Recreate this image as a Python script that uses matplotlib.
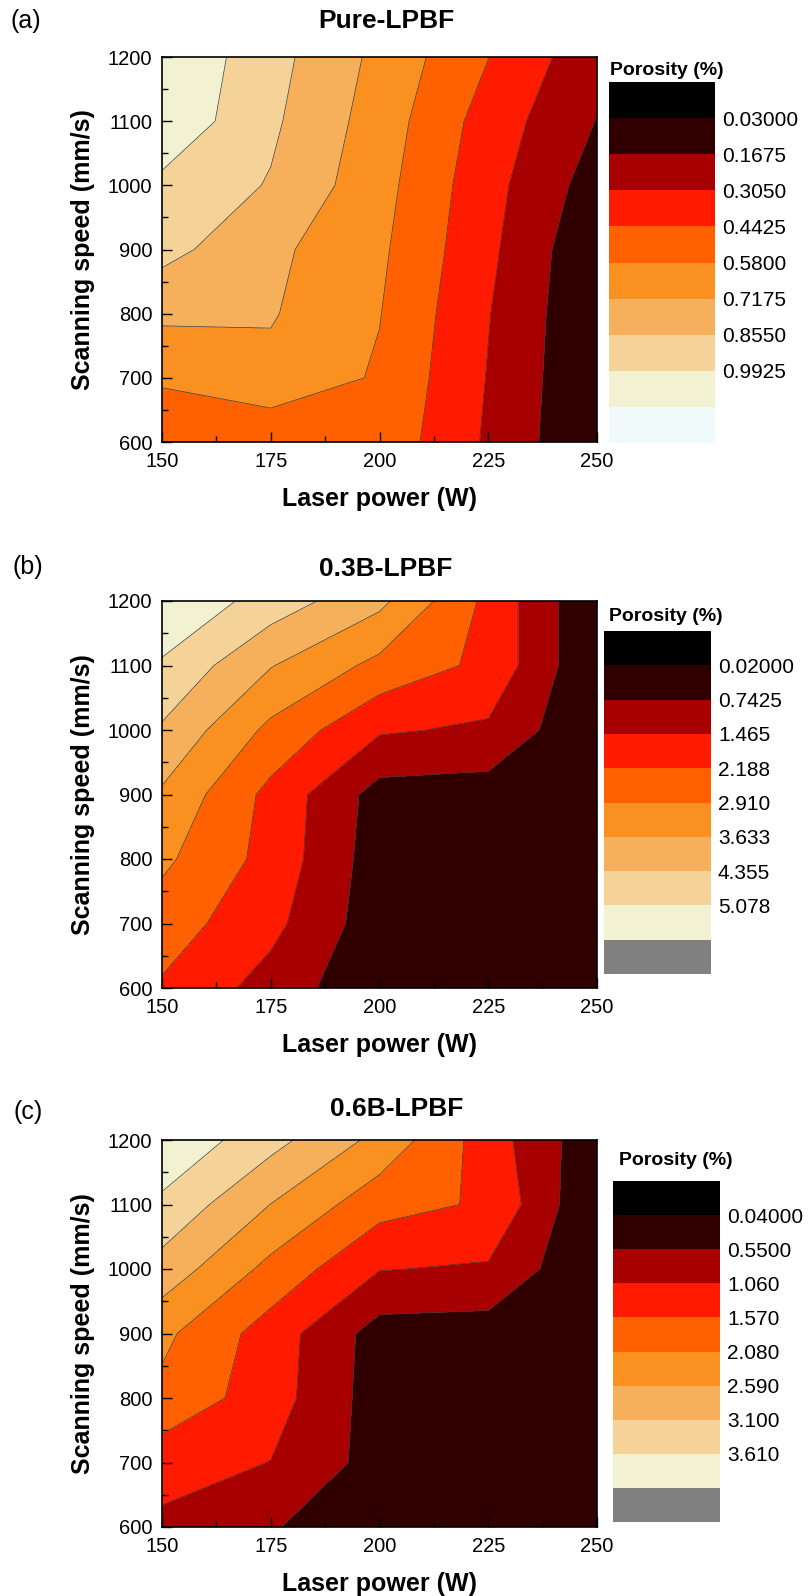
import numpy as np
import matplotlib
matplotlib.use('Agg')
import matplotlib.pyplot as plt
from matplotlib.ticker import MultipleLocator

plt.rcParams['font.family'] = ['Liberation Sans', 'DejaVu Sans']

# grid of the process window
laser_power = [150, 175, 200, 225, 250]
scan_speed = [600, 700, 800, 900, 1000, 1100, 1200]

# porosity (%), one row per scanning speed (600 -> 1200), columns = laser power
porosity_pure = [
    [0.47, 0.47, 0.536, 0.285, 0.032],
    [0.60, 0.678, 0.564, 0.298, 0.037],
    [0.745, 0.729, 0.585, 0.311, 0.042],
    [0.899, 0.75, 0.605, 0.335, 0.049],
    [0.96, 0.845, 0.629, 0.352, 0.103],
    [1.10, 0.880, 0.654, 0.382, 0.163],
    [1.12, 0.905, 0.682, 0.445, 0.208],
]
porosity_03B = [
    [2.1, 1.177, 0.152, 0.1, 0.05],
    [2.551, 1.67, 0.322, 0.25, 0.05],
    [3.06, 1.94, 0.363, 0.3, 0.05],
    [3.533, 1.98, 0.454, 0.4, 0.05],
    [4.264, 2.733, 1.55, 1.35, 0.05],
    [4.98, 3.671, 2.71, 2.0, 0.05],
    [5.75, 4.753, 3.815, 2.0, 0.05],
]
porosity_06B = [
    [0.951, 0.60, 0.1, 0.08, 0.05],
    [1.271, 1.051, 0.347, 0.25, 0.05],
    [1.95, 1.295, 0.299, 0.25, 0.05],
    [2.2, 1.335, 0.329, 0.3, 0.05],
    [2.905, 1.932, 1.08, 1.0, 0.05],
    [3.50, 2.583, 1.766, 1.5, 0.05],
    [4.05, 3.271, 2.445, 1.317, 0.181],
]

# contour levels and the labels shown in the key
levels_pure = [0.03, 0.1675, 0.305, 0.4425, 0.58, 0.7175, 0.855, 0.9925, 1.13]
levels_03B = [0.02, 0.7425, 1.465, 2.188, 2.910, 3.633, 4.355, 5.078, 5.8]
levels_06B = [0.04, 0.55, 1.06, 1.57, 2.08, 2.59, 3.10, 3.61, 4.12]
labels_pure = ['0.03000', '0.1675', '0.3050', '0.4425', '0.5800', '0.7175', '0.8550', '0.9925']
labels_03B = ['0.02000', '0.7425', '1.465', '2.188', '2.910', '3.633', '4.355', '5.078']
labels_06B = ['0.04000', '0.5500', '1.060', '1.570', '2.080', '2.590', '3.100', '3.610']

titles = ['Pure-LPBF', '0.3B-LPBF', '0.6B-LPBF']
panel_tags = ['(a)', '(b)', '(c)']

# fire palette, low -> high porosity
band_colors = ['#300000', '#A80000', '#FF1A00', '#FF6000', '#F9901F',
               '#F6AF5A', '#F5D297', '#F2F2D3']
under_color = '#000000'
over_colors = ['#F0FAFA', '#808080', '#808080']

W, H = 808, 1596
fig = plt.figure(figsize=(W / 100, H / 100), dpi=100)


def px_rect(x0, y0, x1, y1):
    # pixel box (top-left origin) -> figure fraction rect
    return [x0 / W, 1 - y1 / H, (x1 - x0) / W, (y1 - y0) / H]


ax_boxes = [(162, 57, 597, 442), (162, 601, 597, 988), (162, 1140, 597, 1527)]
key_boxes = [(609, 82, 715, 443), (604, 631, 711, 974), (613, 1181, 720, 1522)]
key_title_pos = [(610, 75), (609, 621), (619, 1165)]
title_pos = [(386, 21), (386, 569), (397, 1109)]
tag_pos = [(26, 21), (28, 567), (28, 1112)]

datasets = [porosity_pure, porosity_03B, porosity_06B]
all_levels = [levels_pure, levels_03B, levels_06B]
all_labels = [labels_pure, labels_03B, labels_06B]

for i in range(3):
    ax = fig.add_axes(px_rect(*ax_boxes[i]))
    Z = np.array(datasets[i])
    ax.contourf(laser_power, scan_speed, Z, levels=all_levels[i], colors=band_colors)
    ax.contour(laser_power, scan_speed, Z, levels=all_levels[i][1:-1],
               colors='#3a3a3a', linewidths=0.5)
    ax.set_xlim(150, 250)
    ax.set_ylim(600, 1200)
    ax.xaxis.set_major_locator(MultipleLocator(25))
    ax.xaxis.set_minor_locator(MultipleLocator(12.5))
    ax.yaxis.set_major_locator(MultipleLocator(100))
    ax.yaxis.set_minor_locator(MultipleLocator(50))
    ax.tick_params(which='both', direction='in', top=False, right=False)
    ax.tick_params(which='major', length=7, width=1, labelsize=14.5, pad=7)
    ax.tick_params(which='minor', length=4, width=1)
    for s in ax.spines.values():
        s.set_linewidth(1.2)

    x0, y0, x1, y1 = ax_boxes[i]
    fig.text((x0 + x1) / 2 / W, 1 - (y1 + 57) / H, 'Laser power (W)',
             ha='center', va='center', fontsize=18, fontweight='bold')
    fig.text(83 / W, 1 - (y0 + y1) / 2 / H, 'Scanning speed (mm/s)', rotation=90,
             ha='center', va='center', fontsize=18, fontweight='bold')
    fig.text(title_pos[i][0] / W, 1 - title_pos[i][1] / H, titles[i],
             ha='center', va='center', fontsize=19, fontweight='bold')
    fig.text(tag_pos[i][0] / W, 1 - tag_pos[i][1] / H, panel_tags[i],
             ha='center', va='center', fontsize=18)

    # colour key: under colour on top, bands, over colour at the bottom
    key_colors = [under_color] + band_colors + [over_colors[i]]
    kax = fig.add_axes(px_rect(*key_boxes[i]))
    n = len(key_colors)
    kax.barh(np.arange(n) + 0.5, 1, height=1.0, color=key_colors, edgecolor='none')
    kax.set_xlim(0, 1)
    kax.set_ylim(n, 0)
    kax.set_xticks([])
    kax.yaxis.tick_right()
    kax.set_yticks(np.arange(1, len(all_labels[i]) + 1))
    kax.set_yticklabels(all_labels[i])
    kax.tick_params(axis='y', length=0, pad=5, labelsize=15)
    for s in kax.spines.values():
        s.set_visible(False)
    fig.text(key_title_pos[i][0] / W, 1 - key_title_pos[i][1] / H, 'Porosity (%)',
             ha='left', va='baseline', fontsize=14, fontweight='bold')

fig.savefig('out.png', dpi=100)
